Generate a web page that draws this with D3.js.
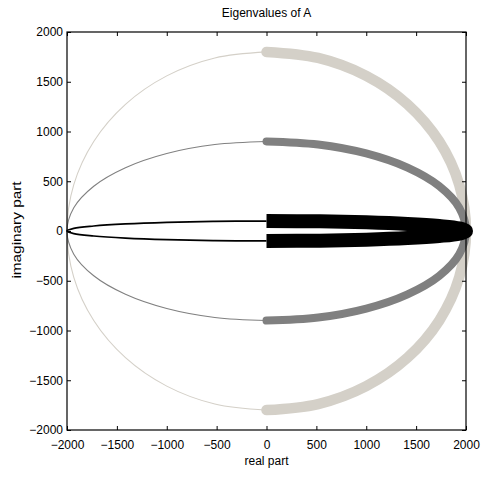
<!DOCTYPE html>
<html>
<head>
<meta charset="utf-8">
<script src="https://cdn.jsdelivr.net/npm/d3@7"></script>
<style>
  html, body { margin: 0; padding: 0; background: #fff; }
  svg { display: block; }
  text { font-family: "Liberation Sans", Arial, Helvetica, sans-serif; }
</style>
</head>
<body>
<script>
// Eigenvalues on the upper half of each ellipse, sampled every 15 degrees
// (real part shared; lower half is the complex conjugate).
const realPart   = [2000, 1932, 1732, 1414, 1000, 518, 0, -518, -1000, -1414, -1732, -1932, -2000];
const imagOuter  = [0, 466, 900, 1273, 1559, 1739, 1800, 1739, 1559, 1273, 900, 466, 0];
const imagMiddle = [0, 233, 450, 636, 779, 869, 900, 869, 779, 636, 450, 233, 0];
const imagInner  = [0, 26, 50, 71, 87, 97, 100, 97, 87, 71, 50, 26, 0];

const seriesImag   = [imagOuter, imagMiddle, imagInner];
const seriesColor  = ["#d4d0c8", "#808080", "#000000"];
const thinWidth    = [1.1, 1.1, 1.7];
const thickWidth   = [10.5, 8, 14];
const thickCap     = ["round", "round", "butt"];

const axisTicks = [-2000, -1500, -1000, -500, 0, 500, 1000, 1500, 2000];

const W = 481, H = 478;
const box = { left: 67, right: 466, top: 32, bottom: 430 };

const svg = d3.select("body").append("svg").attr("width", W).attr("height", H);

const x = d3.scaleLinear().domain([-2000, 2000]).range([box.left, box.right]);
const y = d3.scaleLinear().domain([-2000, 2000]).range([box.bottom, box.top]);

const line = d3.line().x(d => x(d[0])).y(d => y(d[1])).curve(d3.curveCatmullRom.alpha(0.5));

// Left half (real part <= 0) and right half (real part >= 0) of each ellipse
function halves(imag) {
  const leftPts = [], rightPts = [];
  for (let i = 6; i <= 12; i++) leftPts.push([realPart[i], imag[i]]);
  for (let i = 11; i >= 6; i--) leftPts.push([realPart[i], -imag[i]]);
  for (let i = 6; i >= 0; i--) rightPts.push([realPart[i], imag[i]]);
  for (let i = 1; i <= 6; i++) rightPts.push([realPart[i], -imag[i]]);
  return { leftPts, rightPts };
}

const plot = svg.append("g");
seriesImag.forEach((imag, k) => {
  const h = halves(imag);
  plot.append("path")
    .attr("d", line(h.leftPts))
    .attr("fill", "none")
    .attr("stroke", seriesColor[k])
    .attr("stroke-width", thinWidth[k]);
  plot.append("path")
    .attr("d", line(h.rightPts))
    .attr("fill", "none")
    .attr("stroke", seriesColor[k])
    .attr("stroke-width", thickWidth[k])
    .attr("stroke-linecap", thickCap[k])
    .attr("stroke-linejoin", "round");
});

// Axes box with inward ticks on all four sides
const fmt = d3.format("d");
function styleAxis(g) {
  g.select(".domain").remove();
  g.selectAll("line").attr("stroke", "#000").attr("stroke-width", 1);
  g.selectAll("text").attr("fill", "#000").style("font-size", "12px")
    .style("font-family", "'Liberation Sans', Arial, Helvetica, sans-serif");
}
svg.append("g").attr("transform", `translate(0,${box.bottom})`)
  .call(d3.axisBottom(x).tickValues(axisTicks).tickFormat(fmt).tickSizeInner(-4).tickSizeOuter(0).tickPadding(10))
  .call(styleAxis);
svg.append("g").attr("transform", `translate(0,${box.top})`)
  .call(d3.axisTop(x).tickValues(axisTicks).tickFormat("").tickSizeInner(-4).tickSizeOuter(0))
  .call(styleAxis);
svg.append("g").attr("transform", `translate(${box.left},0)`)
  .call(d3.axisLeft(y).tickValues(axisTicks).tickFormat(fmt).tickSizeInner(-4).tickSizeOuter(0).tickPadding(4))
  .call(styleAxis);
svg.append("g").attr("transform", `translate(${box.right},0)`)
  .call(d3.axisRight(y).tickValues(axisTicks).tickFormat("").tickSizeInner(-4).tickSizeOuter(0))
  .call(styleAxis);

svg.append("rect")
  .attr("x", box.left).attr("y", box.top)
  .attr("width", box.right - box.left).attr("height", box.bottom - box.top)
  .attr("fill", "none").attr("stroke", "#000").attr("stroke-width", 1.2);

// Titles
svg.append("text").attr("x", (box.left + box.right) / 2).attr("y", 17)
  .attr("text-anchor", "middle").style("font-size", "12px").text("Eigenvalues of A");
svg.append("text").attr("x", (box.left + box.right) / 2).attr("y", 465)
  .attr("text-anchor", "middle").style("font-size", "12px").text("real part");
// rotated label is drawn with wider glyphs along its length
svg.append("text").attr("transform", `translate(21,${(box.top + box.bottom) / 2 - 1}) rotate(-90) scale(1.28,1)`)
  .attr("text-anchor", "middle").style("font-size", "12px")
  .text("imaginary part");
</script>
</body>
</html>
